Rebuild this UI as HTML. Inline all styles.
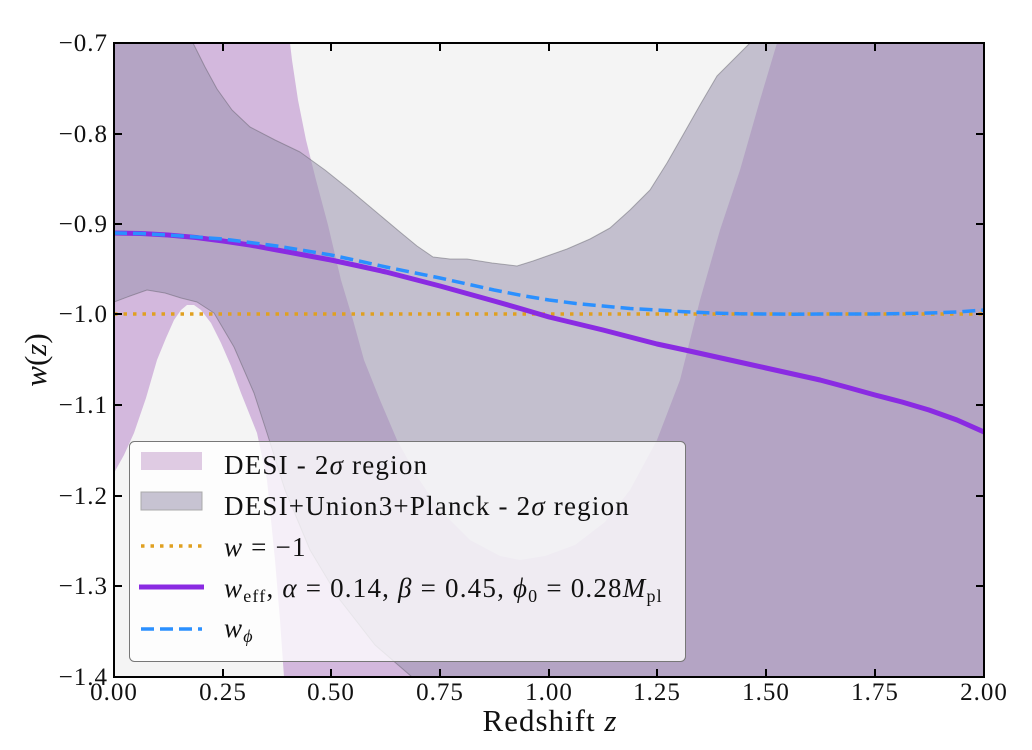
<!DOCTYPE html>
<html><head><meta charset="utf-8"><style>
body{margin:0;background:#fff;}
svg{display:block;}
text{font-family:"Liberation Serif",serif;fill:#111;}
</style></head><body>
<svg width="1032" height="750" viewBox="0 0 1032 750">
<defs><clipPath id="c"><rect x="114" y="43" width="870" height="634"/></clipPath></defs>
<rect x="114" y="43" width="870" height="634" fill="#f4f4f4"/>
<g clip-path="url(#c)">
<path fill="#d3b8dd" fill-rule="evenodd" d="M100,30 H1000 V700 H100 Z
M290,30 L290,43 292,60 298,100 306,140 316,180 328,225 341,280 353,320 364,360 380,400 397,440 418,478 440,510 470,540 500,556 520,560 545,556 575,545 605,522 630,490 657,440 680,380 700,300 720,230 740,170 760,100 777,43 780,30 Z
M100,480 L114,473 124,455 134,433 146,398 157,360 166,338 174,320 181,310 187,305 194,305 201,310 211,323 221,343 231,366 241,393 257,433 267,480 275,560 280,620 284,677 284,700 100,700 Z"/>
<path fill="rgb(154,148,175)" fill-opacity="0.55" stroke="rgba(90,90,100,0.45)" stroke-width="1" stroke-linejoin="round" fill-rule="evenodd" d="M95,25 H1005 V705 H95 Z
M193,25 L193,43 205,67 217,89 232,110 250,127 275,140 300,152 325,170 350,190 375,211 400,232 417,246 433,257 450,259 467,259 492,263 517,266 533,261 550,255 567,249 590,239 610,228 630,210 650,190 667,163 683,135 700,105 717,76 735,58 750,43 752,25 Z
M95,303 L114,302 130,296 147,290 165,293 181,298 197,302 214,313 234,347 254,393 267,433 285,490 310,550 340,600 375,645 412,677 412,705 95,705 Z"/>
</g>
<g clip-path="url(#c)" fill="none" stroke-linejoin="round">
<line x1="114" y1="314" x2="984" y2="314" stroke="#e0a020" stroke-width="3.5" stroke-dasharray="3.5,6"/>
<polyline stroke="#8a2be2" stroke-width="5" points="114,233 141,233.5 168,235 196,237.5 223,241 250,245 277,250 304,255 331,260 359,266 386,272 413,279 440,286 467,293.5 494,301 522,309 549,317 576,323.5 603,330 630,337 657,344 685,350 712,356 739,362 766,368 793,374 820,380 848,387.5 875,395 902,402 929,410 957,420 984,432"/>
<polyline stroke="#2b90ff" stroke-width="3.5" stroke-dasharray="13,6" points="114,233 141,233.5 168,235 196,237 223,239 250,242.5 277,246 304,250.5 331,255 359,261 386,267 413,272.5 440,278 467,284 494,290 522,295.5 549,300 576,303.5 603,306 630,308.5 657,310 685,311.8 712,313 739,313.8 766,314 793,314.2 820,314 848,314 875,314 902,313.6 929,313 957,312 984,310"/>
</g>
<rect x="114" y="43" width="870" height="634" fill="none" stroke="#000" stroke-width="2"/>
<g stroke="#000" stroke-width="2">
<path d="M114,43v8M223,43v8M331,43v8M440,43v8M549,43v8M657,43v8M766,43v8M875,43v8M984,43v8
M114,677v-8M223,677v-8M331,677v-8M440,677v-8M549,677v-8M657,677v-8M766,677v-8M875,677v-8M984,677v-8
M114,43h8M114,134h8M114,224h8M114,314h8M114,405h8M114,496h8M114,586h8M114,677h8
M984,43h-8M984,134h-8M984,224h-8M984,314h-8M984,405h-8M984,496h-8M984,586h-8M984,677h-8"/>
</g>
<g font-size="25" text-anchor="end" letter-spacing="1">
<text x="108" y="51">−0.7</text><text x="108" y="142">−0.8</text><text x="108" y="232">−0.9</text><text x="108" y="322">−1.0</text><text x="108" y="413">−1.1</text><text x="108" y="504">−1.2</text><text x="108" y="594">−1.3</text><text x="108" y="685">−1.4</text>
</g>
<g font-size="25" text-anchor="middle" letter-spacing="1">
<text x="114" y="700">0.00</text><text x="223" y="700">0.25</text><text x="331" y="700">0.50</text><text x="440" y="700">0.75</text><text x="549" y="700">1.00</text><text x="657" y="700">1.25</text><text x="766" y="700">1.50</text><text x="875" y="700">1.75</text><text x="984" y="700">2.00</text>
</g>
<text x="550" y="731" font-size="31" text-anchor="middle" letter-spacing="1">Redshift <tspan font-style="italic">z</tspan></text>
<text transform="translate(46,360) rotate(-90)" font-size="31" text-anchor="middle"><tspan font-style="italic">w</tspan>(<tspan font-style="italic">z</tspan>)</text>
<rect x="129.5" y="441.5" width="556" height="220" rx="5" fill="rgba(255,255,255,0.78)" stroke="#777" stroke-width="1"/>
<rect x="141" y="452" width="61" height="18" fill="#dfcbe3"/>
<rect x="141" y="492" width="61" height="18" fill="#c7c3d2" stroke="#aaa" stroke-width="1"/>
<line x1="141" y1="546" x2="202" y2="546" stroke="#e0a020" stroke-width="3.5" stroke-dasharray="3.5,6"/>
<line x1="139" y1="587" x2="204" y2="587" stroke="#8a2be2" stroke-width="5"/>
<line x1="141" y1="629" x2="202" y2="629" stroke="#2b90ff" stroke-width="3.5" stroke-dasharray="13,6"/>
<g font-size="27" letter-spacing="1.2">
<text x="224" y="474">DESI - 2<tspan font-style="italic">σ</tspan> region</text>
<text x="224" y="515">DESI+Union3+Planck - 2<tspan font-style="italic">σ</tspan> region</text>
<text x="224" y="556"><tspan font-style="italic">w</tspan> = −1</text>
<text x="224" y="597"><tspan font-style="italic">w</tspan><tspan font-size="18" dy="5">eff</tspan><tspan dy="-5">, </tspan><tspan font-style="italic">α</tspan> = 0.14, <tspan font-style="italic">β</tspan> = 0.45, <tspan font-style="italic">ϕ</tspan><tspan font-size="18" dy="5">0</tspan><tspan dy="-5"> = 0.28</tspan><tspan font-style="italic">M</tspan><tspan font-size="18" dy="5">pl</tspan></text>
<text x="224" y="637"><tspan font-style="italic">w</tspan><tspan font-size="18" dy="5" font-style="italic">ϕ</tspan></text>
</g>
</svg>
</body></html>
